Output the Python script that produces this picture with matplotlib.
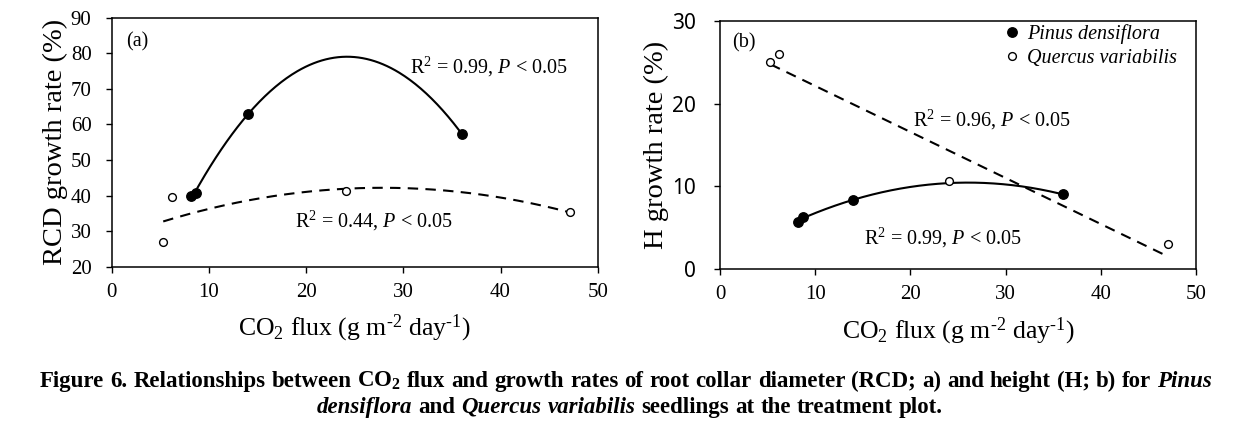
import matplotlib
matplotlib.use("Agg")
import matplotlib.pyplot as plt
import numpy as np

# ── data ──────────────────────────────────────────────────────────────────────
# CO2 flux (g m-2 day-1) of each plot, same for both panels
pinus_flux = [8.2, 8.7, 14.0, 36.0]
quercus_flux = [5.3, 6.2, 24.1, 47.1]

# (a) RCD growth rate (%)
pinus_rcd = [40.0, 40.6, 62.9, 57.4]
quercus_rcd = [27.0, 39.6, 41.4, 35.4]

# (b) H growth rate (%)
pinus_h = [5.75, 6.35, 8.37, 9.05]
quercus_h = [25.05, 25.94, 10.7, 3.1]

# fit order per series (a: both quadratic, b: Pinus quadratic, Quercus linear)
fit_order_a = (2, 2)
fit_order_b = (2, 1)

stats_a = ("R$^2$ = 0.99, $P$ < 0.05", "R$^2$ = 0.44, $P$ < 0.05")
stats_b = ("R$^2$ = 0.96, $P$ < 0.05", "R$^2$ = 0.99, $P$ < 0.05")
species = ("Pinus densiflora", "Quercus variabilis")

caption_1 = ("Figure 6. Relationships between CO$_\\mathbf{2}$ flux and growth rates of "
             "root collar diameter (RCD; a) and height (H; b) for *Pinus")
caption_2 = "*densiflora and *Quercus *variabilis seedlings at the treatment plot."

# ── style ─────────────────────────────────────────────────────────────────────
SERIF = "Liberation Serif"
plt.rcParams["font.family"] = SERIF
plt.rcParams["mathtext.fontset"] = "custom"
plt.rcParams["mathtext.rm"] = SERIF
plt.rcParams["mathtext.it"] = SERIF + ":italic"
plt.rcParams["mathtext.bf"] = SERIF + ":bold"

W, H = 1247, 426
fig = plt.figure(figsize=(W / 100, H / 100), dpi=100)
ax_a = fig.add_axes([111.7 / W, 1 - 266.7 / H, 486 / W, 249 / H])
ax_b = fig.add_axes([720 / W, 1 - 269.3 / H, 476 / W, 248.6 / H])


def draw_series(ax, x, y, order, filled, dashed, label):
    coef = np.polyfit(x, y, order)
    xs = np.linspace(min(x), max(x), 200)
    ln, = ax.plot(xs, np.polyval(coef, xs), color="black", lw=1.5, zorder=2)
    if dashed:
        ln.set_dashes((5, 3.5))
    ax.plot(x, y, linestyle="none", marker="o",
            ms=6.8 if filled else 5.6,
            mfc="black" if filled else "white", mec="black", mew=1.0,
            zorder=3, label=label)


def style_axes(ax, ylim, yticks, ylabel, ypad, ytick_font):
    ax.set_xlim(0, 50)
    ax.set_ylim(*ylim)
    ax.set_xticks(range(0, 51, 10))
    ax.set_yticks(yticks)
    for s in ax.spines.values():
        s.set_linewidth(1.1)
    ax.tick_params(direction="out", length=4.5, width=1.0, labelsize=15)
    ax.tick_params(axis="x", pad=7)
    ax.tick_params(axis="y", pad=ypad)
    for lab in ax.get_yticklabels():
        lab.set_family(ytick_font)
    ax.set_xlabel("CO$_2$ flux (g m$^{\u20102}$ day$^{\u20101}$)", fontsize=18.5,
                  labelpad=8)
    ax.set_ylabel(ylabel, fontsize=20.5, labelpad=2)


# (a)
draw_series(ax_a, pinus_flux, pinus_rcd, fit_order_a[0], True, False, species[0])
draw_series(ax_a, quercus_flux, quercus_rcd, fit_order_a[1], False, True, species[1])
style_axes(ax_a, (20, 90), range(20, 91, 10), "RCD growth rate (%)", 10, SERIF)
ax_a.text(1.5, 83.3, "(a)", fontsize=14.5, va="center")
ax_a.text(30.7, 76.2, stats_a[0], fontsize=14.5, va="center")
ax_a.text(18.9, 32.8, stats_a[1], fontsize=14.5, va="center")

# (b)
draw_series(ax_b, pinus_flux, pinus_h, fit_order_b[0], True, False, species[0])
draw_series(ax_b, quercus_flux, quercus_h, fit_order_b[1], False, True, species[1])
style_axes(ax_b, (0, 30), range(0, 31, 10), "H growth rate (%)", 13, "Noto Sans")
ax_b.text(1.3, 27.3, "(b)", fontsize=14.5, va="center")
ax_b.text(20.3, 18.0, stats_b[0], fontsize=14.5, va="center")
ax_b.text(15.1, 3.75, stats_b[1], fontsize=14.5, va="center")
ax_b.legend(loc="upper left", bbox_to_anchor=(0.597, 0.985), frameon=False,
            prop={"family": SERIF, "style": "italic", "size": 14.5},
            handlelength=0.8, handletextpad=0.35, borderpad=0, borderaxespad=0,
            labelspacing=0.25)

# ── caption (justified first line, centred second line) ──────────────────────
CAP_FS = 16.5
renderer = fig.canvas.get_renderer()


def make_words(line, y):
    out = []
    for w in line.split(" "):
        ital = w.startswith("*")
        t = fig.text(0, y, w.lstrip("*"), fontsize=CAP_FS, fontweight="bold",
                     style="italic" if ital else "normal", va="baseline")
        out.append((t, t.get_window_extent(renderer).width))
    return out


line1 = make_words(caption_1, 1 - 387 / H)
line2 = make_words(caption_2, 1 - 413 / H)
x0, x1 = 40, 1212
gap = (x1 - x0 - sum(w for _, w in line1)) / (len(line1) - 1)
x = x0
for t, w in line1:
    t.set_x(x / W)
    x += w + gap
total2 = sum(w for _, w in line2) + gap * (len(line2) - 1)
x = 630 - total2 / 2
for t, w in line2:
    t.set_x(x / W)
    x += w + gap

fig.savefig("out.png", dpi=100)
